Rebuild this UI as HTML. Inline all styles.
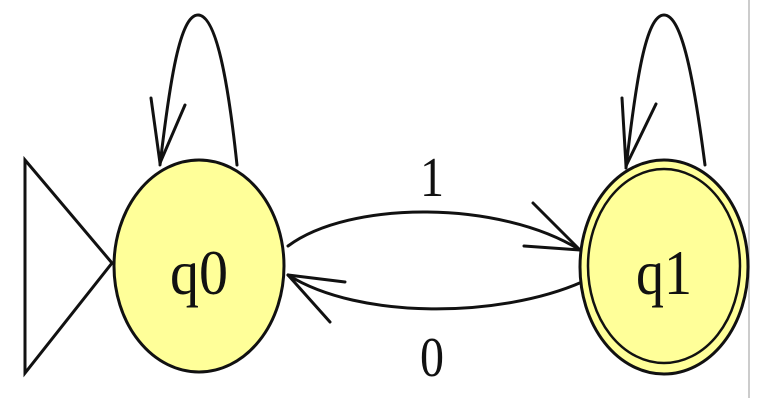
<!DOCTYPE html>
<html><head><style>
html,body{margin:0;padding:0;background:#fff;}
svg{display:block;}
text{font-family:"Liberation Serif",serif;fill:#111;}
</style></head><body>
<svg width="762" height="404" viewBox="0 0 762 404" xmlns="http://www.w3.org/2000/svg">
<line x1="749" y1="0" x2="749" y2="398" stroke="#ccc" stroke-width="2"/>
<g fill="none" stroke="#111" stroke-width="3" stroke-linecap="round">
<polygon points="25,160 112,263 25,373"/>
<path d="M160,165 C170,80 180,15 198,15 C216,15 228,80 237,165"/>
<line x1="151" y1="98" x2="160" y2="163"/>
<line x1="185" y1="105" x2="160" y2="163"/>
<path d="M626,168 C636,80 646,15 664,15 C682,15 694,80 705,165"/>
<line x1="622" y1="98" x2="626" y2="166"/>
<line x1="656" y1="104" x2="626" y2="166"/>
<path d="M288,246 C350,200 500,200 580,250"/>
<line x1="533" y1="203" x2="580" y2="250"/>
<line x1="524" y1="246" x2="580" y2="250"/>
<path d="M582,282 C500,318 360,320 288,275"/>
<line x1="345" y1="282" x2="288" y2="275"/>
<line x1="330" y1="322" x2="288" y2="275"/>
</g>
<ellipse cx="199" cy="266" rx="85" ry="106" fill="#ffff99" stroke="#111" stroke-width="3"/>
<ellipse cx="664" cy="267" rx="84" ry="107" fill="#ffff99" stroke="#111" stroke-width="3"/>
<ellipse cx="664" cy="266" rx="76" ry="97" fill="none" stroke="#111" stroke-width="2.5"/>
<text x="199" y="294" font-size="64" text-anchor="middle" textLength="58" lengthAdjust="spacingAndGlyphs">q0</text>
<text x="664" y="294" font-size="64" text-anchor="middle" textLength="56" lengthAdjust="spacingAndGlyphs">q1</text>
<text x="432" y="196" font-size="56" text-anchor="middle" textLength="24" lengthAdjust="spacingAndGlyphs">1</text>
<text x="432" y="376" font-size="56" text-anchor="middle" textLength="24" lengthAdjust="spacingAndGlyphs">0</text>
</svg>
</body></html>
